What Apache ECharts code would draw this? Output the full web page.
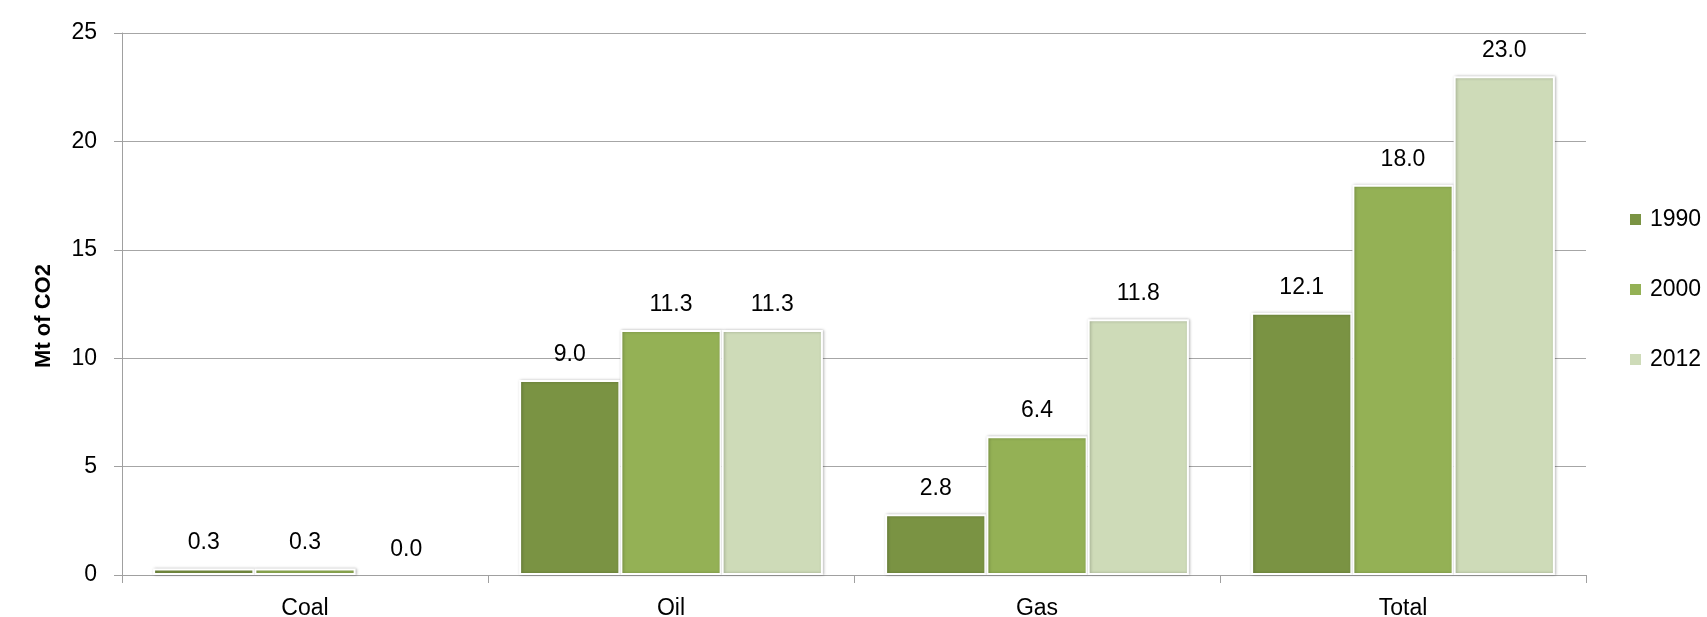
<!DOCTYPE html>
<html>
<head>
<meta charset="utf-8">
<script src="https://cdn.jsdelivr.net/npm/echarts@6/dist/echarts.min.js"></script>
<style>
html,body{margin:0;padding:0;background:#fff;}
#c{width:1707px;height:617px;}
</style>
</head>
<body>
<div id="c"></div>
<script>
const categories = ['Coal', 'Oil', 'Gas', 'Total'];
const seriesNames = ['1990', '2000', '2012'];
const values1990 = [0.3, 9.0, 2.8, 12.1];
const values2000 = [0.3, 11.3, 6.4, 18.0];
const values2012 = [0.0, 11.3, 11.8, 23.0];
const yTicks = [0, 5, 10, 15, 20, 25];
const colors = ['#7A9343', '#94B155', '#CEDBB8'];

const FONT = '"Liberation Sans", Arial, sans-serif';
const chart = echarts.init(document.getElementById('c'));
const allValues = [values1990, values2000, values2012];

chart.setOption({
  animation: false,
  backgroundColor: '#ffffff',
  grid: { left: 122, right: 121, top: 33, bottom: 42, containLabel: false, outerBoundsMode: 'none' },
  legend: {
    orient: 'vertical',
    left: 1623,
    top: 203,
    itemWidth: 13,
    itemHeight: 13,
    itemGap: 47,
    icon: 'rect',
    textStyle: { fontFamily: FONT, fontSize: 23, color: '#000', padding: [0, 0, 0, 3] },
    data: seriesNames
  },
  xAxis: {
    type: 'category',
    data: categories,
    axisLine: { lineStyle: { color: '#a0a0a0', width: 1 } },
    axisTick: { show: true, length: 8, lineStyle: { color: '#a0a0a0' } },
    axisLabel: { fontFamily: FONT, fontSize: 23, color: '#000', margin: 22 },
    splitLine: { show: false }
  },
  yAxis: {
    type: 'value',
    min: yTicks[0],
    max: yTicks[yTicks.length - 1],
    interval: 5,
    axisLine: { show: true, lineStyle: { color: '#a0a0a0', width: 1 } },
    axisTick: { show: true, length: 8, lineStyle: { color: '#a0a0a0' } },
    axisLabel: { fontFamily: FONT, fontSize: 23, color: '#000', margin: 25 },
    splitLine: { show: true, lineStyle: { color: '#a6a6a6', width: 1 } }
  },
  graphic: [{
    type: 'text',
    x: 44,
    y: 316,
    rotation: Math.PI / 2,
    style: {
      text: 'Mt of CO2',
      fontFamily: FONT,
      fontWeight: 'bold',
      fontSize: 22,
      fill: '#000',
      align: 'center',
      verticalAlign: 'middle'
    }
  }],
  series: seriesNames.map((name, i) => ({
    name: name,
    type: 'bar',
    data: allValues[i].map(v => v === 0
      ? { value: v, itemStyle: { borderWidth: 0, shadowBlur: 0, shadowColor: 'transparent' } }
      : v),
    barGap: '0%',
    barCategoryGap: '17%',
    itemStyle: {
      color: colors[i],
      borderColor: '#ffffff',
      borderWidth: 2,
      shadowColor: 'rgba(0,0,0,0.25)',
      shadowBlur: 3,
      shadowOffsetX: 1,
      shadowOffsetY: 0
    },
    label: {
      show: true,
      position: 'top',
      distance: 14,
      fontFamily: FONT,
      fontSize: 23,
      color: '#000',
      formatter: p => p.value.toFixed(1)
    }
  }))
});
</script>
</body>
</html>
